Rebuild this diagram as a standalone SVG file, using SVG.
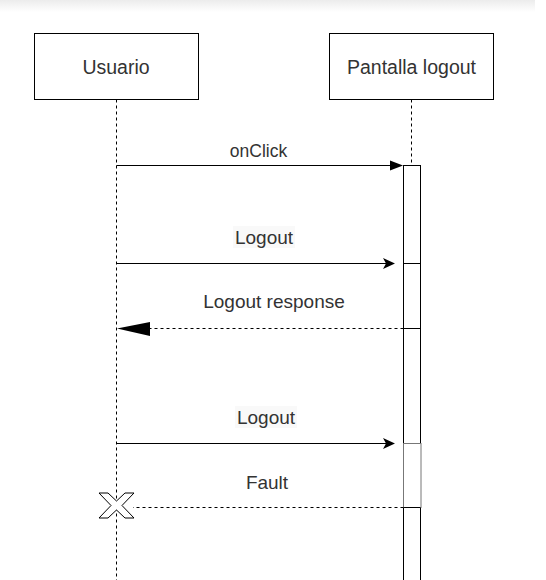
<svg xmlns="http://www.w3.org/2000/svg" width="546" height="580" viewBox="0 0 546 580">
<defs>
<linearGradient id="topband" x1="0" y1="0" x2="0" y2="1">
<stop offset="0" stop-color="#ececec"/>
<stop offset="1" stop-color="#ffffff"/>
</linearGradient>
</defs>
<style>
.box{fill:#fff;stroke:#000;stroke-width:1}
.life{stroke:#000;stroke-width:1;stroke-dasharray:3,3;fill:none}
.msg{stroke:#000;stroke-width:1;fill:none}
.ret{stroke:#000;stroke-width:1;stroke-dasharray:3,3;fill:none}
.t{font-family:"Liberation Sans",Arial,sans-serif;fill:#333;text-anchor:middle;dominant-baseline:central}
.lbg{fill:#f9f9f9}
</style>
<rect x="0" y="0" width="546" height="580" fill="#fff"/>
<rect x="0" y="0" width="535" height="12" fill="url(#topband)"/>
<g id="usuario">
<rect class="box" x="34.5" y="33.5" width="164" height="66"/>
<text class="t" x="116" y="67" font-size="19.5">Usuario</text>
<line class="life" x1="116.5" y1="99.5" x2="116.5" y2="580"/>
</g>
<g id="pantalla">
<rect class="box" x="329.5" y="33.5" width="164" height="66"/>
<text class="t" x="411.5" y="67" font-size="19.5">Pantalla logout</text>
<line class="life" x1="411.5" y1="99.5" x2="411.5" y2="165"/>
</g>
<g id="activation">
<rect class="box" x="403.5" y="165.5" width="17" height="420"/>
</g>
<g id="activation2">
<rect x="403.5" y="443.5" width="17.5" height="64" fill="#fff" stroke="#777" stroke-width="1"/>
</g>
<g id="connectors">
<line class="msg" x1="116.5" y1="165.5" x2="392" y2="165.5"/>
<polygon points="403,165.5 390,160.5 390,170.5" fill="#000"/>
<text class="t" x="258.5" y="151" font-size="17.5">onClick</text>

<line class="msg" x1="116.5" y1="263.5" x2="392" y2="263.5"/>
<line class="msg" x1="403.5" y1="263.5" x2="420.5" y2="263.5"/>
<polygon points="395,263.5 383,258 386,263.5 383,269" fill="#000"/>
<rect class="lbg" x="233" y="226" width="62" height="22"/>
<text class="t" x="264" y="237" font-size="19">Logout</text>

<line class="ret" x1="403.5" y1="328.5" x2="150" y2="328.5"/>
<line class="msg" x1="403.5" y1="328.5" x2="420.5" y2="328.5"/>
<polygon points="117,328.5 150,322 150,336" fill="#000"/>
<text class="t" x="274" y="301" font-size="19">Logout response</text>

<line class="msg" x1="116.5" y1="443.5" x2="392" y2="443.5"/>
<polygon points="395,443.5 383,438 386,443.5 383,449" fill="#000"/>
<rect class="lbg" x="235" y="406" width="62" height="22"/>
<text class="t" x="266" y="417" font-size="19">Logout</text>

<line class="ret" x1="403.5" y1="507.5" x2="133" y2="507.5"/>
<line class="msg" x1="403.5" y1="507.5" x2="420.5" y2="507.5"/>
<polygon points="99,493 108,493 116.5,501 125,493 134,493 122,505.5 134,518 125,518 116.5,510 108,518 99,518 111,505.5" fill="#fff" stroke="#000" stroke-width="1"/>
<text class="t" x="267" y="482" font-size="19">Fault</text>
</g>
</svg>
